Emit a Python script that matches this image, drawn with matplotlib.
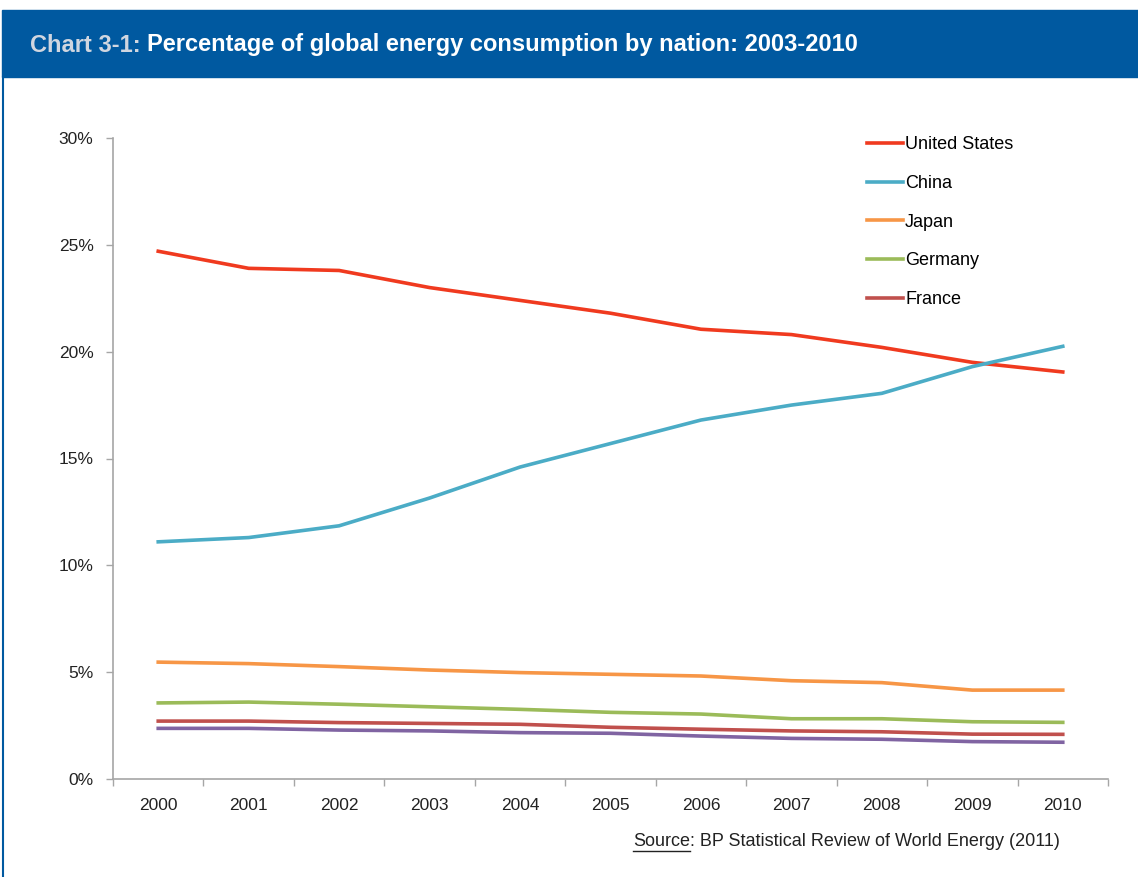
import matplotlib
matplotlib.use('Agg')
import matplotlib.pyplot as plt
from matplotlib.patches import Rectangle
from matplotlib.lines import Line2D
from matplotlib.ticker import FuncFormatter, FixedLocator

plt.rcParams['font.family'] = ['Liberation Sans', 'DejaVu Sans']

# data (share of world energy consumption, %)
years = ['2000', '2001', '2002', '2003', '2004', '2005',
         '2006', '2007', '2008', '2009', '2010']
united_states = [24.7, 23.9, 23.8, 23.0, 22.4, 21.8, 21.05, 20.8, 20.2, 19.5, 19.05]
china = [11.1, 11.3, 11.85, 13.15, 14.6, 15.7, 16.8, 17.5, 18.05, 19.3, 20.25]
japan = [5.47, 5.4, 5.26, 5.1, 4.98, 4.9, 4.82, 4.6, 4.51, 4.16, 4.16]
germany = [3.56, 3.6, 3.5, 3.38, 3.26, 3.12, 3.04, 2.82, 2.82, 2.68, 2.65]
france = [2.71, 2.71, 2.64, 2.6, 2.56, 2.42, 2.33, 2.25, 2.21, 2.1, 2.09]
other = [2.37, 2.37, 2.29, 2.25, 2.17, 2.14, 2.01, 1.9, 1.86, 1.75, 1.72]

W, H = 1138, 877
fig = plt.figure(figsize=(W / 100, H / 100), dpi=100)

# header band and frame
blue = '#0059a0'
fig.patches.append(Rectangle((2 / W, 1 - 77 / H), 1 - 2 / W, 67 / H,
                             transform=fig.transFigure, color=blue, zorder=0))
fig.add_artist(Line2D([3 / W, 3 / W], [0, 1 - 77 / H], transform=fig.transFigure,
                      color=blue, lw=1.5))
title_size = 17
fig.text(30 / W, 1 - 45 / H, 'Chart 3-1:', color='#d0d6e0', fontsize=title_size,
         fontweight='bold', va='center', ha='left')
t0 = fig.text(0, 0, 'Chart 3-1: ', fontsize=title_size, fontweight='bold', alpha=0)
fig.canvas.draw()
w0 = t0.get_window_extent().width
t0.remove()
fig.text((30 + w0) / W, 1 - 45 / H, 'Percentage of global energy consumption by nation: 2003-2010',
         color='white', fontsize=title_size, fontweight='bold', va='center', ha='left')

ax = fig.add_axes([113 / W, 1 - 779 / H, (1108 - 113) / W, (779 - 138) / H])
x = list(range(len(years)))
ax.plot(x, united_states, color='#f03a1f', lw=2.6, label='United States')
ax.plot(x, china, color='#4bacc6', lw=2.6, label='China')
ax.plot(x, japan, color='#f79646', lw=2.6, label='Japan')
ax.plot(x, germany, color='#9bbb59', lw=2.6, label='Germany')
ax.plot(x, france, color='#c0504d', lw=2.6, label='France')
ax.plot(x, other, color='#8064a2', lw=2.6)

ax.set_xlim(-0.5, len(years) - 0.5)
ax.set_ylim(0, 30)
ax.set_yticks([0, 5, 10, 15, 20, 25, 30])
ax.yaxis.set_major_formatter(FuncFormatter(lambda v, p: '%d%%' % v))
ax.set_xticks(x)
ax.set_xticklabels(years)
ax.xaxis.set_minor_locator(FixedLocator([i - 0.5 for i in range(len(years) + 1)]))
ax.tick_params(axis='x', which='major', length=0, pad=14, labelsize=12.5, colors='#222222')
ax.tick_params(axis='x', which='minor', length=5, color='#a6a6a6', width=1)
ax.tick_params(axis='y', length=5, color='#a6a6a6', width=1, pad=9, labelsize=12.5,
               labelcolor='#222222')
for s in ['top', 'right']:
    ax.spines[s].set_visible(False)
for s in ['left', 'bottom']:
    ax.spines[s].set_color('#a6a6a6')
    ax.spines[s].set_linewidth(1.2)

leg = ax.legend(loc='upper left', bbox_to_anchor=((865 - 113) / (1108 - 113) - 0.005, 1.014),
                frameon=False, fontsize=13, handlelength=2.0, handletextpad=0.1,
                labelspacing=1.2, borderaxespad=0)

# source note with underlined "Source"
src_size = 13
s1 = fig.text(633 / W, 1 - 841 / H, 'Source', fontsize=src_size, va='center', ha='left', color='#222222')
fig.canvas.draw()
bb = s1.get_window_extent()
fig.text(bb.x1 / W, 1 - 841 / H, ': BP Statistical Review of World Energy (2011)',
         fontsize=src_size, va='center', ha='left', color='#222222')
fig.add_artist(Line2D([bb.x0 / W, bb.x1 / W], [(bb.y0 - 1) / H, (bb.y0 - 1) / H],
                      transform=fig.transFigure, color='#222222', lw=1))

fig.savefig('out.png', dpi=100)
